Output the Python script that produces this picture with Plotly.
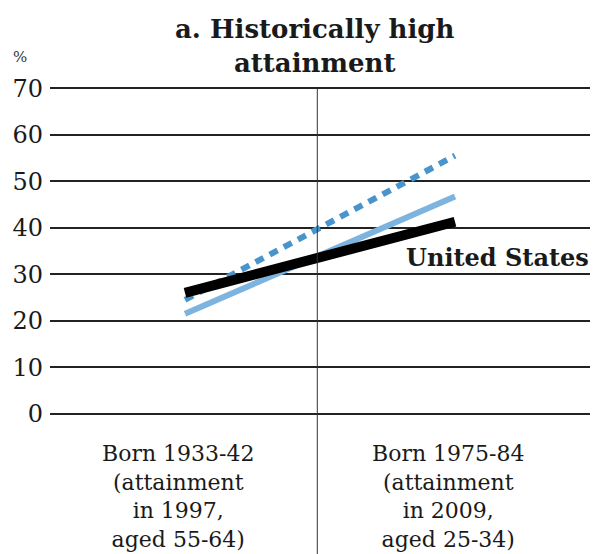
import plotly.graph_objects as go

categories = ["Born 1933-42<br>(attainment<br>in 1997,<br>aged 55-64)",
              "Born 1975-84<br>(attainment<br>in 2009,<br>aged 25-34)"]
x_pos = [0.5, 1.5]
us_values = [26, 41.3]
light_values = [21.5, 46.7]
dotted_values = [24.5, 55.5]
y_ticks = [0, 10, 20, 30, 40, 50, 60, 70]

FONT = "DejaVu Serif"
W, H = 590, 546
M_L, M_R, M_T, M_B = 42, 8, 78, 138
PLOT_H = H - M_T - M_B

fig = go.Figure()
fig.add_trace(go.Scatter(x=x_pos, y=dotted_values, mode="lines",
                         line=dict(color="#4a94cc", width=6, dash="9px,7px"), showlegend=False))
fig.add_trace(go.Scatter(x=x_pos, y=light_values, mode="lines",
                         line=dict(color="#7db4df", width=6), showlegend=False))
fig.add_trace(go.Scatter(x=x_pos, y=us_values, mode="lines",
                         line=dict(color="#000000", width=10), showlegend=False))

fig.add_shape(type="line", xref="x", yref="paper", x0=0.99, x1=0.99,
              y0=-0.5, y1=70.5 / 71, line=dict(color="#333333", width=1))

for xv, label in zip(x_pos, categories):
    fig.add_annotation(x=xv, y=0, xref="x", yref="paper", text=label,
                       showarrow=False, xanchor="center", yanchor="top",
                       xshift=-7, yshift=-23,
                       font=dict(family=FONT, size=22, color="#1a1a1a"))

fig.add_annotation(x=1.31, y=33.5, xref="x", yref="y", text="<b>United States</b>",
                   showarrow=False, xanchor="left", yanchor="middle",
                   font=dict(family=FONT, size=24, color="#1a1a1a"))
fig.add_annotation(x=-0.055, y=1 + (M_T - 49) / PLOT_H, xref="paper", yref="paper", text="%",
                   showarrow=False, xanchor="center", yanchor="middle",
                   font=dict(family=FONT, size=15, color="#333333"))
fig.add_annotation(x=0.49, y=1 + (M_T - 38) / PLOT_H, xref="paper", yref="paper",
                   text="<b>a. Historically high<br>attainment</b>",
                   showarrow=False, xanchor="center", yanchor="middle",
                   font=dict(family=FONT, size=26, color="#1a1a1a"))

fig.update_layout(
    width=W, height=H,
    margin=dict(l=M_L, r=M_R, t=M_T, b=M_B),
    plot_bgcolor="white", paper_bgcolor="white",
    xaxis=dict(range=[0, 2], showticklabels=False, showgrid=False,
               zeroline=False, showline=False, ticks="", automargin=False, fixedrange=True),
    yaxis=dict(range=[-0.5, 70.5], tickvals=y_ticks, showgrid=True, gridcolor="#222222",
               gridwidth=2, zeroline=False, showline=False, ticks="", automargin=False,
               ticklabelstandoff=6,
               tickfont=dict(family=FONT, size=24, color="#1a1a1a"), fixedrange=True),
)
fig.write_html("out.html")
